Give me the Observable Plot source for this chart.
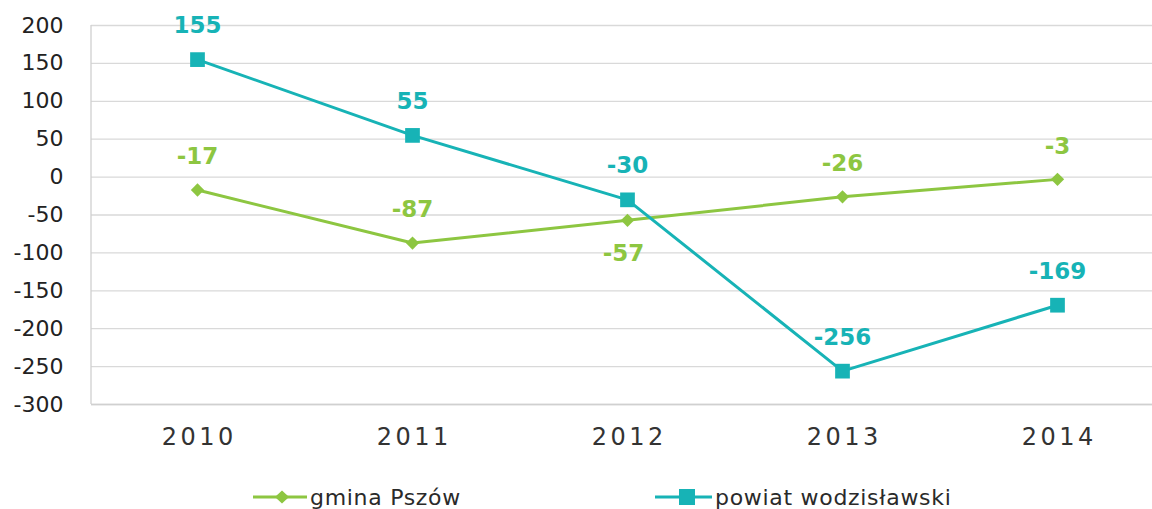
<!DOCTYPE html>
<html>
<head>
<meta charset="utf-8">
<script src="https://cdn.jsdelivr.net/npm/d3@7"></script>
<script src="https://cdn.jsdelivr.net/npm/@observablehq/plot@0.6"></script>
<style>
  html, body { margin: 0; padding: 0; background: #fff; }
  #wrap { position: relative; width: 1152px; height: 509px; overflow: hidden; font-family: "DejaVu Sans", sans-serif; }
  #legend { position: absolute; left: 0; top: 482px; width: 1152px; height: 30px; }
  .item { position: absolute; top: 0; display: flex; align-items: center; height: 30px; font-size: 22px; color: #2a2a2a; letter-spacing: 0.7px; white-space: nowrap; }
  .item svg { margin-right: 3px; }
</style>
</head>
<body>
<div id="wrap">
  <div id="chart"></div>
  <div id="legend"></div>
</div>
<script>
const years = ["2010", "2011", "2012", "2013", "2014"];
const gminaPszow = [-17, -87, -57, -26, -3];
const powiatWodzislawski = [155, 55, -30, -256, -169];
const seriesNames = ["gmina Pszów", "powiat wodzisławski"];
const yTicks = [200, 150, 100, 50, 0, -50, -100, -150, -200, -250, -300];

const GREEN = "#8DC641";
const TEAL = "#17B3B6";

const gData = years.map((year, i) => ({year, value: gminaPszow[i], series: seriesNames[0]}));
const pData = years.map((year, i) => ({year, value: powiatWodzislawski[i], series: seriesNames[1]}));

const chart = Plot.plot({
  width: 1152,
  height: 472,
  marginTop: 25,
  marginBottom: 68,
  marginLeft: 91,
  marginRight: 0,
  style: {fontFamily: "DejaVu Sans, sans-serif", background: "#fff", overflow: "visible"},
  x: {type: "point", domain: years, range: [197, 1057], padding: 0, label: null},
  y: {domain: [-300, 200], label: null},
  marks: [
    Plot.ruleY(yTicks, {stroke: "#d9d9d9", strokeWidth: 1.3}),
    Plot.ruleY([-300], {stroke: "#d0d0d0", strokeWidth: 1.3}),
    Plot.axisY({ticks: yTicks, tickSize: 0, tickPadding: 28, label: null, fontSize: 22, fill: "#222", tickFormat: d => String(d).replace("−", "-")}),
    Plot.axisX({tickSize: 0, tickPadding: 23, label: null, fontSize: 24, fill: "#333", dx: 1.75, ariaLabel: "x-axis"}),
    Plot.line(gData, {x: "year", y: "value", stroke: GREEN, strokeWidth: 3}),
    Plot.line(pData, {x: "year", y: "value", stroke: TEAL, strokeWidth: 3}),
    Plot.dot(gData, {x: "year", y: "value", symbol: "diamond2", r: 6, fill: GREEN, stroke: "none"}),
    Plot.dot(pData, {x: "year", y: "value", symbol: "square", r: 8.3, fill: TEAL, stroke: "none"}),
    Plot.text(gData.filter(d => d.year !== "2012"), {x: "year", y: "value", text: d => String(d.value), dy: -33, fill: GREEN, fontSize: 23, fontWeight: "bold"}),
    Plot.text(gData.filter(d => d.year === "2012"), {x: "year", y: "value", text: d => String(d.value), dy: 33, dx: -4, fill: GREEN, fontSize: 23, fontWeight: "bold"}),
    Plot.text(pData, {x: "year", y: "value", text: d => String(d.value), dy: -34, fill: TEAL, fontSize: 23, fontWeight: "bold"})
  ]
});
document.getElementById("chart").appendChild(chart);

const svg = d3.select(chart.tagName.toLowerCase() === "svg" ? chart : chart.querySelector("svg"));
// widen x tick labels
svg.selectAll("g[aria-label^='x-axis'] text").style("letter-spacing", "3.5px");
// y axis line
svg.append("line").attr("x1", 91).attr("x2", 91).attr("y1", 25).attr("y2", 404).attr("stroke", "#d0d0d0").attr("stroke-width", 1.3);

// legend
const legend = document.getElementById("legend");
const items = [
  {name: seriesNames[0], color: GREEN, shape: "diamond", left: 253, w: 54, c: 29},
  {name: seriesNames[1], color: TEAL, shape: "square", left: 655, w: 57, c: 32}
];
for (const it of items) {
  const div = document.createElement("div");
  div.className = "item";
  div.style.left = it.left + "px";
  const my = 15;
  const marker = it.shape === "square"
    ? `<rect x="${it.c - 8}" y="${my - 8}" width="16" height="16" fill="${it.color}"/>`
    : `<path d="M${it.c},${my - 6.5} L${it.c + 7},${my} L${it.c},${my + 6.5} L${it.c - 7},${my} Z" fill="${it.color}"/>`;
  div.innerHTML = `<svg width="${it.w}" height="30"><line x1="0" x2="${it.w}" y1="${my}" y2="${my}" stroke="${it.color}" stroke-width="3"/>${marker}</svg><span>${it.name}</span>`;
  legend.appendChild(div);
}
</script>
</body>
</html>
